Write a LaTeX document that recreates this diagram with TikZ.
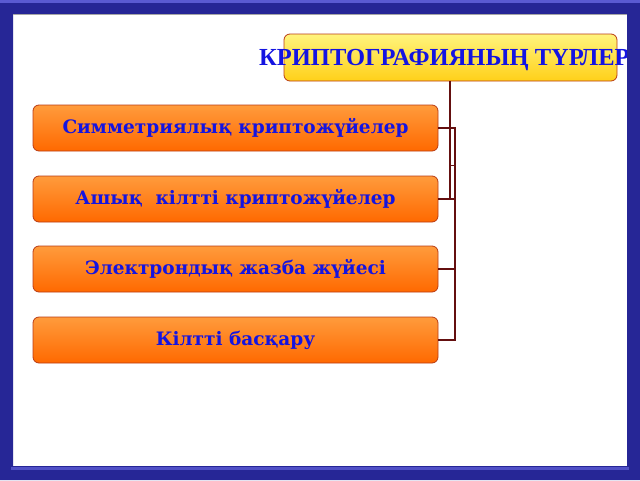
\documentclass[tikz,border=0pt]{standalone}
\usepackage{fontspec}
\setmainfont{DejaVu Serif}
\newfontfamily\titlefont{Liberation Serif}
\usetikzlibrary{positioning}
\definecolor{framebl}{RGB}{38,38,150}
\definecolor{framelt}{RGB}{90,90,210}
\definecolor{txtblue}{RGB}{20,20,225}
\definecolor{linkred}{RGB}{100,15,15}
\definecolor{edgeor}{RGB}{185,60,20}
\tikzstyle{headbox} = [rectangle, rounded corners=6pt, draw=edgeor, line width=0.8pt,
top color={rgb,255:red,255;green,244;blue,125}, bottom color={rgb,255:red,255;green,208;blue,25},
minimum width=333pt, minimum height=47pt, inner sep=0pt]
\tikzstyle{kindbox} = [rectangle, rounded corners=6pt, draw=edgeor, line width=0.8pt,
top color={rgb,255:red,255;green,155;blue,60}, bottom color={rgb,255:red,255;green,105;blue,0},
minimum width=405pt, minimum height=46pt, inner sep=0pt,
font=\bfseries\fontsize{18.5}{18.5}\selectfont, text=txtblue]
\tikzstyle{headtext} = [font=\titlefont\bfseries\fontsize{24.5}{24.5}\selectfont, text=txtblue, inner sep=0pt]
\tikzstyle{link} = [draw=linkred, line width=1.6pt]
\begin{document}
\begin{tikzpicture}[x=1pt,y=-1pt]
  \useasboundingbox (0,0) rectangle (640,480);
  % white sheet
  \fill[white] (0,0) rectangle (640,480);

  \node[headbox] (head) at (450.5,57.5) {};
  \node[kindbox] (k1) at (235.5,128) {Симметриялық криптожүйелер};
  \node[kindbox] (k2) at (235.5,199) {Ашық~~кілтті криптожүйелер};
  \node[kindbox] (k3) at (235.5,269) {Электрондық жазба жүйесі};
  \node[kindbox] (k4) at (235.5,340) {Кілтті басқару};

  % connectors
  \coordinate (bus) at (455,128);
  \draw[link] (head.south -| 450,0) -- (450,199) -- (k2.east);
  \draw[link] (k1.east) -- (bus) |- (k4.east);
  \draw[link] (bus |- k2.east) -- (k2.east);
  \draw[link] (bus |- k3.east) -- (k3.east);
  \draw[linkred, line width=0.6pt] (450,128) rectangle (455,165);

  \node[headtext, anchor=west] (htxt) at (259,60) {КРИПТОГРАФИЯНЫҢ ТҮРЛЕРІ};

  % blue frame
  \fill[framebl, even odd rule] (0,0) rectangle (640,480) (13,14) rectangle (627,466);
  \fill[framelt] (0,0) rectangle (640,2.5);
  \fill[framelt!80!framebl] (11,467) rectangle (629,470);
  \draw[gray!70, line width=1pt] (13,14.5) -- (627,14.5);
\end{tikzpicture}
\end{document}
